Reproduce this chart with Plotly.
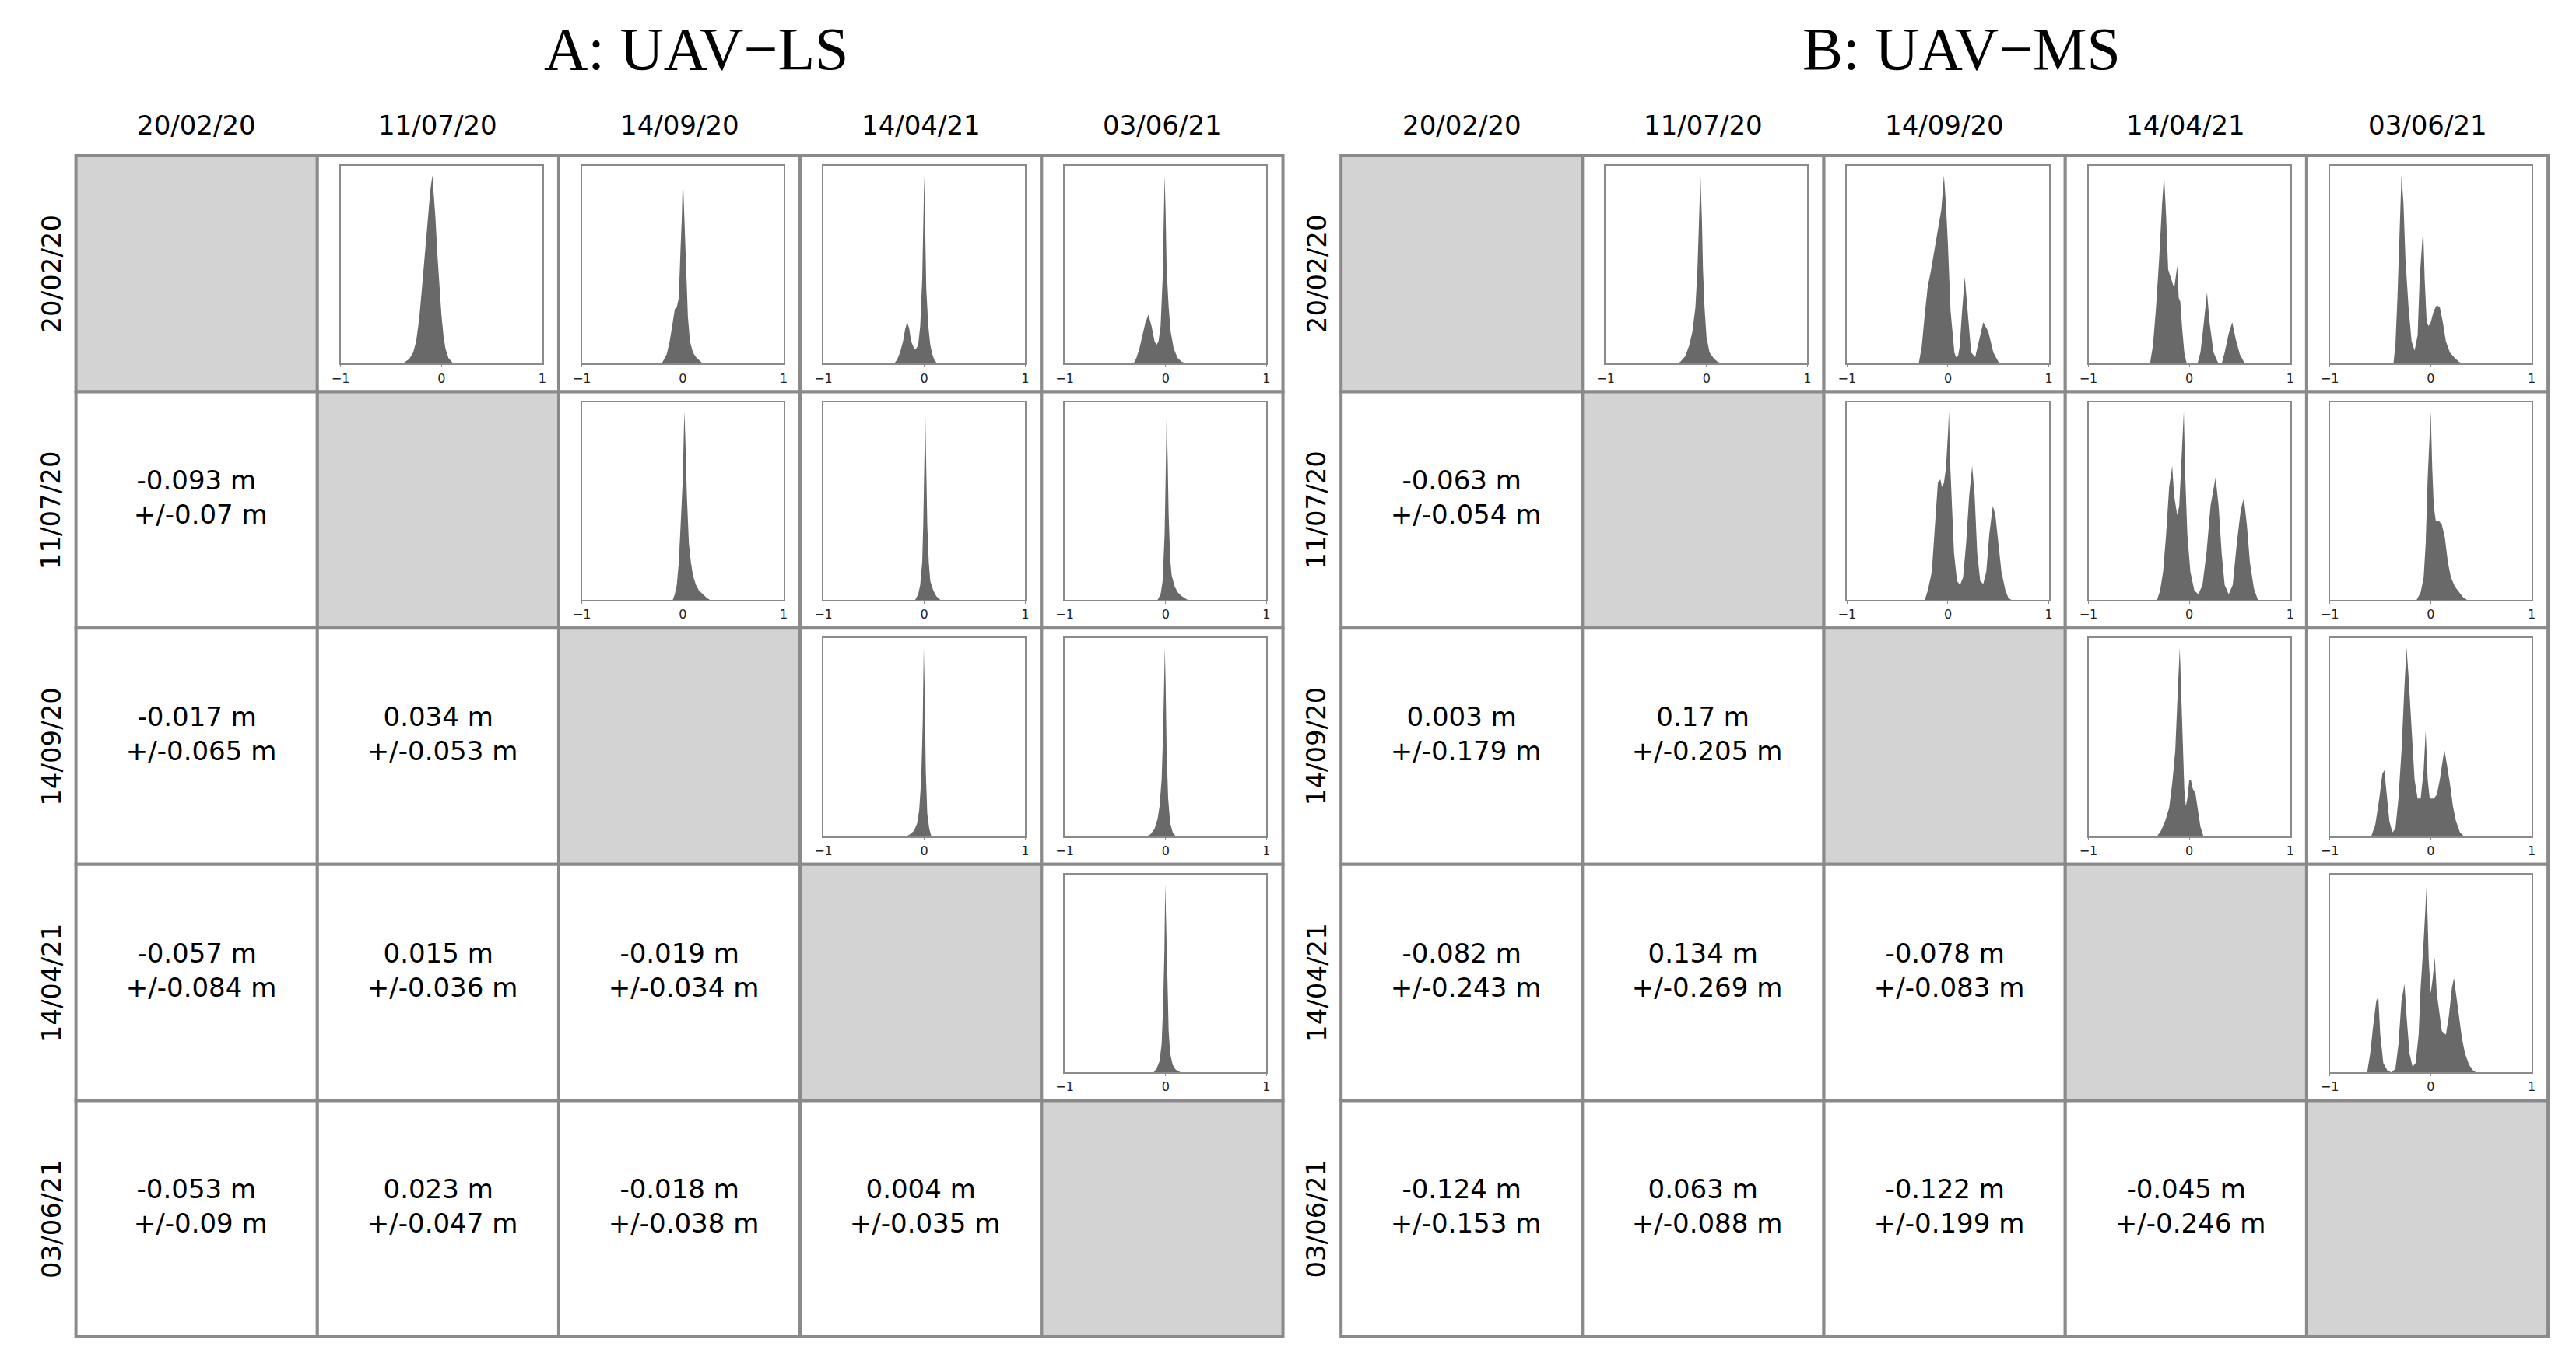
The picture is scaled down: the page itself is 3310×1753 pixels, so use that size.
import plotly.graph_objects as go

# --- data -------------------------------------------------------------
dates = ["20/02/20", "11/07/20", "14/09/20", "14/04/21", "03/06/21"]
panel_titles = ["A: UAV\u2212LS", "B: UAV\u2212MS"]

# lower triangle: mean and std of the elevation difference (m)
mean_a = [[], [-0.093], [-0.017, 0.034], [-0.057, 0.015, -0.019], [-0.053, 0.023, -0.018, 0.004]]
std_a = [[], [0.07], [0.065, 0.053], [0.084, 0.036, 0.034], [0.09, 0.047, 0.038, 0.035]]
mean_b = [[], [-0.063], [0.003, 0.17], [-0.082, 0.134, -0.078], [-0.124, 0.063, -0.122, -0.045]]
std_b = [[], [0.054], [0.179, 0.205], [0.243, 0.269, 0.083], [0.153, 0.088, 0.199, 0.246]]

# upper triangle: histogram outlines (difference in m, relative count)
a01_x = [-0.38, -0.36, -0.32, -0.28, -0.25, -0.22, -0.19, -0.16, -0.13, -0.11, -0.09, -0.075, -0.06, -0.04, -0.02, 0.0, 0.02, 0.04, 0.07, 0.1, 0.12]
a01_y = [0.0, 0.01, 0.025, 0.06, 0.12, 0.24, 0.42, 0.6, 0.8, 0.92, 1.0, 0.9, 0.78, 0.58, 0.4, 0.26, 0.15, 0.08, 0.03, 0.01, 0.0]
a02_x = [-0.22, -0.2, -0.16, -0.13, -0.1, -0.08, -0.06, -0.04, -0.025, -0.01, 0.0, 0.01, 0.02, 0.035, 0.05, 0.07, 0.1, 0.13, 0.2]
a02_y = [0.0, 0.01, 0.05, 0.12, 0.22, 0.29, 0.3, 0.35, 0.58, 0.78, 1.0, 0.85, 0.72, 0.55, 0.25, 0.12, 0.06, 0.035, 0.0]
a03_x = [-0.3, -0.27, -0.24, -0.21, -0.19, -0.17, -0.15, -0.13, -0.1, -0.08, -0.06, -0.04, -0.02, -0.01, 0.0, 0.01, 0.02, 0.04, 0.06, 0.08, 0.1, 0.13]
a03_y = [0.0, 0.02, 0.06, 0.12, 0.18, 0.22, 0.19, 0.12, 0.08, 0.08, 0.1, 0.2, 0.45, 0.75, 1.0, 0.7, 0.4, 0.2, 0.1, 0.05, 0.02, 0.0]
a04_x = [-0.32, -0.29, -0.26, -0.23, -0.2, -0.17, -0.14, -0.11, -0.09, -0.07, -0.05, -0.03, -0.02, -0.01, 0.0, 0.01, 0.03, 0.05, 0.08, 0.12, 0.16, 0.22]
a04_y = [0.0, 0.03, 0.08, 0.15, 0.22, 0.26, 0.2, 0.12, 0.1, 0.12, 0.2, 0.45, 0.75, 1.0, 0.8, 0.5, 0.3, 0.17, 0.08, 0.03, 0.01, 0.0]
a12_x = [-0.1, -0.08, -0.06, -0.04, -0.02, 0.0, 0.01, 0.015, 0.025, 0.04, 0.06, 0.08, 0.1, 0.13, 0.16, 0.2, 0.24, 0.27]
a12_y = [0.0, 0.03, 0.08, 0.2, 0.42, 0.65, 0.9, 1.0, 0.85, 0.55, 0.3, 0.2, 0.13, 0.08, 0.05, 0.03, 0.01, 0.0]
a13_x = [-0.09, -0.06, -0.04, -0.02, -0.01, 0.0, 0.01, 0.02, 0.03, 0.045, 0.06, 0.09, 0.12, 0.16]
a13_y = [0.0, 0.03, 0.08, 0.2, 0.4, 0.7, 1.0, 0.7, 0.4, 0.2, 0.1, 0.05, 0.02, 0.0]
a14_x = [-0.08, -0.05, -0.03, -0.01, 0.0, 0.01, 0.02, 0.03, 0.045, 0.06, 0.09, 0.12, 0.16, 0.22]
a14_y = [0.0, 0.03, 0.1, 0.35, 0.65, 1.0, 0.75, 0.45, 0.22, 0.13, 0.07, 0.04, 0.02, 0.0]
a23_x = [-0.18, -0.14, -0.1, -0.07, -0.05, -0.03, -0.015, -0.005, 0.005, 0.015, 0.03, 0.05, 0.07]
a23_y = [0.0, 0.01, 0.03, 0.07, 0.14, 0.3, 0.6, 1.0, 0.75, 0.35, 0.12, 0.04, 0.0]
a24_x = [-0.19, -0.15, -0.11, -0.08, -0.06, -0.04, -0.025, -0.015, -0.008, 0.0, 0.01, 0.025, 0.045, 0.07, 0.1]
a24_y = [0.0, 0.01, 0.04, 0.09, 0.16, 0.3, 0.55, 0.8, 1.0, 0.8, 0.45, 0.2, 0.07, 0.02, 0.0]
a34_x = [-0.12, -0.09, -0.06, -0.04, -0.025, -0.012, -0.004, 0.005, 0.015, 0.03, 0.045, 0.07, 0.1, 0.15]
a34_y = [0.0, 0.02, 0.06, 0.15, 0.35, 0.65, 1.0, 0.8, 0.5, 0.22, 0.1, 0.04, 0.015, 0.0]

b01_x = [-0.3, -0.26, -0.21, -0.17, -0.14, -0.11, -0.09, -0.075, -0.06, -0.045, -0.035, -0.02, 0.0, 0.03, 0.07, 0.11, 0.16]
b01_y = [0.0, 0.01, 0.04, 0.1, 0.17, 0.3, 0.5, 0.75, 1.0, 0.75, 0.5, 0.3, 0.14, 0.06, 0.03, 0.01, 0.0]
b02_x = [-0.29, -0.26, -0.23, -0.2, -0.17, -0.13, -0.09, -0.065, -0.04, -0.02, 0.0, 0.026, 0.064, 0.08, 0.1, 0.116, 0.14, 0.167, 0.19, 0.23, 0.27, 0.31, 0.35, 0.4, 0.45, 0.5, 0.53]
b02_y = [0.0, 0.09, 0.26, 0.41, 0.49, 0.61, 0.73, 0.82, 1.0, 0.85, 0.63, 0.28, 0.06, 0.035, 0.04, 0.09, 0.28, 0.46, 0.31, 0.06, 0.035, 0.13, 0.22, 0.17, 0.06, 0.01, 0.0]
b03_x = [-0.39, -0.36, -0.33, -0.3, -0.27, -0.25, -0.23, -0.21, -0.18, -0.15, -0.13, -0.12, -0.105, -0.09, -0.07, -0.05, -0.03, -0.02,
         0.08, 0.11, 0.14, 0.175, 0.2, 0.24, 0.28, 0.3, 0.32, 0.35, 0.39, 0.425, 0.46, 0.5, 0.54, 0.56]
b03_y = [0.0, 0.1, 0.3, 0.55, 0.85, 1.0, 0.78, 0.5, 0.45, 0.4, 0.48, 0.52, 0.35, 0.33, 0.18, 0.06, 0.01, 0.0,
         0.0, 0.06, 0.2, 0.38, 0.22, 0.06, 0.01, 0.0, 0.0, 0.06, 0.16, 0.22, 0.13, 0.05, 0.01, 0.0]
b04_x = [-0.37, -0.35, -0.33, -0.31, -0.29, -0.27, -0.25, -0.22, -0.19, -0.16, -0.13, -0.11, -0.09, -0.075, -0.06, -0.04, -0.02, 0.0, 0.03, 0.06, 0.09, 0.12, 0.15, 0.19, 0.24, 0.28, 0.32]
b04_y = [0.0, 0.1, 0.35, 0.7, 1.0, 0.85, 0.55, 0.3, 0.12, 0.07, 0.15, 0.45, 0.6, 0.72, 0.45, 0.22, 0.2, 0.22, 0.28, 0.31, 0.3, 0.22, 0.12, 0.06, 0.03, 0.01, 0.0]
b12_x = [-0.23, -0.2, -0.16, -0.13, -0.1, -0.075, -0.06, -0.04, -0.02, 0.0, 0.01, 0.02, 0.04, 0.06, 0.09, 0.12, 0.15, 0.18, 0.21, 0.24, 0.265, 0.29, 0.32, 0.35, 0.38, 0.41, 0.445, 0.47, 0.5, 0.53, 0.57, 0.6, 0.63]
b12_y = [0.0, 0.05, 0.15, 0.4, 0.62, 0.64, 0.6, 0.62, 0.7, 0.88, 1.0, 0.75, 0.5, 0.25, 0.1, 0.08, 0.12, 0.3, 0.55, 0.71, 0.55, 0.25, 0.1, 0.085, 0.15, 0.35, 0.5, 0.45, 0.3, 0.15, 0.05, 0.01, 0.0]
b13_x = [-0.32, -0.29, -0.26, -0.23, -0.2, -0.17, -0.15, -0.12, -0.1, -0.075, -0.055, -0.04, -0.02, 0.01, 0.05, 0.09, 0.13, 0.17, 0.21, 0.26, 0.29, 0.32, 0.35, 0.39, 0.43, 0.47, 0.51, 0.54, 0.57, 0.6, 0.64, 0.68]
b13_y = [0.0, 0.05, 0.15, 0.35, 0.6, 0.71, 0.55, 0.45, 0.5, 0.75, 1.0, 0.65, 0.35, 0.15, 0.05, 0.03, 0.08, 0.25, 0.5, 0.65, 0.5, 0.25, 0.08, 0.03, 0.08, 0.3, 0.48, 0.54, 0.4, 0.2, 0.06, 0.0]
b14_x = [-0.14, -0.1, -0.07, -0.05, -0.03, -0.01, 0.0, 0.015, 0.03, 0.05, 0.08, 0.11, 0.14, 0.17, 0.2, 0.24, 0.28, 0.32, 0.36]
b14_y = [0.0, 0.04, 0.12, 0.3, 0.65, 0.9, 1.0, 0.7, 0.5, 0.42, 0.42, 0.4, 0.33, 0.2, 0.12, 0.07, 0.04, 0.015, 0.0]
b23_x = [-0.32, -0.28, -0.24, -0.2, -0.17, -0.14, -0.12, -0.095, -0.08, -0.065, -0.05, -0.035, -0.02, 0.0, 0.015, 0.035, 0.06, 0.09, 0.11, 0.14]
b23_y = [0.0, 0.03, 0.08, 0.15, 0.28, 0.45, 0.7, 1.0, 0.75, 0.45, 0.25, 0.16, 0.2, 0.3, 0.3, 0.25, 0.23, 0.12, 0.05, 0.0]
b24_x = [-0.59, -0.55, -0.51, -0.48, -0.46, -0.44, -0.41, -0.38, -0.35, -0.32, -0.29, -0.26, -0.24, -0.22, -0.19, -0.16, -0.13, -0.1, -0.07, -0.05, -0.03, -0.01, 0.03, 0.06, 0.09, 0.12, 0.135, 0.16, 0.19, 0.22, 0.25, 0.29, 0.33]
b24_y = [0.0, 0.06, 0.2, 0.33, 0.35, 0.25, 0.08, 0.02, 0.04, 0.2, 0.45, 0.8, 1.0, 0.85, 0.56, 0.3, 0.2, 0.2, 0.35, 0.56, 0.3, 0.2, 0.2, 0.22, 0.3, 0.42, 0.46, 0.38, 0.28, 0.16, 0.08, 0.02, 0.0]
b34_x = [-0.63, -0.6, -0.57, -0.54, -0.52, -0.5, -0.47, -0.43, -0.39, -0.35, -0.32, -0.29, -0.26, -0.24, -0.21, -0.18, -0.15, -0.12, -0.1, -0.07, -0.04, -0.02, 0.0, 0.02, 0.04, 0.06, 0.08, 0.11, 0.15, 0.18, 0.21, 0.23, 0.26, 0.28, 0.31, 0.34, 0.38, 0.42, 0.45]
b34_y = [0.0, 0.1, 0.25, 0.38, 0.4, 0.2, 0.05, 0.01, 0.0, 0.02, 0.15, 0.38, 0.47, 0.3, 0.1, 0.03, 0.05, 0.2, 0.45, 0.7, 1.0, 0.6, 0.42, 0.5, 0.61, 0.42, 0.34, 0.22, 0.2, 0.3, 0.45, 0.5, 0.38, 0.29, 0.18, 0.1, 0.04, 0.01, 0.0]

hists = [
    {(0, 1): (a01_x, a01_y), (0, 2): (a02_x, a02_y), (0, 3): (a03_x, a03_y), (0, 4): (a04_x, a04_y),
     (1, 2): (a12_x, a12_y), (1, 3): (a13_x, a13_y), (1, 4): (a14_x, a14_y),
     (2, 3): (a23_x, a23_y), (2, 4): (a24_x, a24_y), (3, 4): (a34_x, a34_y)},
    {(0, 1): (b01_x, b01_y), (0, 2): (b02_x, b02_y), (0, 3): (b03_x, b03_y), (0, 4): (b04_x, b04_y),
     (1, 2): (b12_x, b12_y), (1, 3): (b13_x, b13_y), (1, 4): (b14_x, b14_y),
     (2, 3): (b23_x, b23_y), (2, 4): (b24_x, b24_y), (3, 4): (b34_x, b34_y)},
]
means = [mean_a, mean_b]
stds = [std_a, std_b]

# --- layout geometry (page pixels) -------------------------------------
PAGE_W, PAGE_H = 3310, 1753
BODY = 8  # default html body margin, the figure starts at (8, 8)
W, H = PAGE_W - 2 * BODY, PAGE_H - 2 * BODY
PANEL_X0 = [86, 1720]
GRID_Y0 = 200
CW, CH = 311.8, 303.6
GRID_LINE = "#8a8a8a"
DIAG_FILL = "#d3d3d3"
HIST_FILL = "#696969"
SANS = "DejaVu Sans"


def px(x):
    return (x - BODY) / W


def py(y):
    return 1 - (y - BODY) / H


fig = go.Figure()
shapes = []
annotations = []
axes = {}
n = 0

for p in range(2):
    x0 = PANEL_X0[p]
    # title
    annotations.append(dict(text=panel_titles[p], x=px(x0 + 2.5 * CW + 22), y=py(62),
                            xref="paper", yref="paper", showarrow=False,
                            xanchor="center", yanchor="middle",
                            font=dict(family="Liberation Serif", size=78, color="black")))
    for k, d in enumerate(dates):
        # column header
        annotations.append(dict(text=d, x=px(x0 + (k + 0.5) * CW), y=py(161),
                                xref="paper", yref="paper", showarrow=False,
                                xanchor="center", yanchor="middle",
                                font=dict(family=SANS, size=34, color="black")))
        # row label
        annotations.append(dict(text=d, x=px(x0 - 32), y=py(GRID_Y0 + (k + 0.5) * CH),
                                xref="paper", yref="paper", showarrow=False, textangle=-90,
                                xanchor="center", yanchor="middle",
                                font=dict(family=SANS, size=34, color="black")))

    for r in range(5):
        for c in range(5):
            cx0 = x0 + c * CW
            cy0 = GRID_Y0 + r * CH
            shapes.append(dict(type="rect", xref="paper", yref="paper", layer="below",
                               x0=px(cx0), x1=px(cx0 + CW), y0=py(cy0 + CH), y1=py(cy0),
                               fillcolor=DIAG_FILL if r == c else "white",
                               line=dict(color=GRID_LINE, width=4)))
            if r > c:
                m = means[p][r][c]
                s = stds[p][r][c]
                annotations.append(dict(text=f"{m} m<br> +/-{s} m",
                                        x=px(cx0 + CW / 2), y=py(cy0 + CH / 2 - 16),
                                        xref="paper", yref="paper", showarrow=False,
                                        xanchor="center", yanchor="middle", align="center",
                                        font=dict(family=SANS, size=34, color="black")))
            elif c > r:
                n += 1
                hx, hy = hists[p][(r, c)]
                sfx = "" if n == 1 else str(n)
                fig.add_trace(go.Scatter(x=hx, y=hy, mode="lines", fill="tozeroy",
                                         line=dict(width=0, color=HIST_FILL),
                                         fillcolor=HIST_FILL, hoverinfo="skip",
                                         xaxis="x" + sfx, yaxis="y" + sfx))
                axes["xaxis" + sfx] = dict(
                    domain=[px(cx0 + 0.096 * CW), px(cx0 + 0.932 * CW)],
                    anchor="y" + sfx, range=[-1, 1],
                    tickvals=[-1, 0, 1], ticktext=["\u22121", "0", "1"],
                    ticks="outside", ticklen=3, tickcolor=GRID_LINE,
                    tickfont=dict(family=SANS, size=16, color="#222222"),
                    showgrid=False, zeroline=False, showline=True, mirror=True,
                    linecolor=GRID_LINE, linewidth=2, fixedrange=True)
                axes["yaxis" + sfx] = dict(
                    domain=[py(cy0 + 0.881 * CH), py(cy0 + 0.043 * CH)],
                    anchor="x" + sfx, range=[0, 1.05],
                    showticklabels=False, ticks="",
                    showgrid=False, zeroline=False, showline=True, mirror=True,
                    linecolor=GRID_LINE, linewidth=2, fixedrange=True)

fig.update_layout(
    width=W, height=H,
    margin=dict(l=0, r=0, t=0, b=0),
    paper_bgcolor="white", plot_bgcolor="white",
    showlegend=False,
    shapes=shapes,
    annotations=annotations,
    **axes,
)

fig.write_html("out.html")
